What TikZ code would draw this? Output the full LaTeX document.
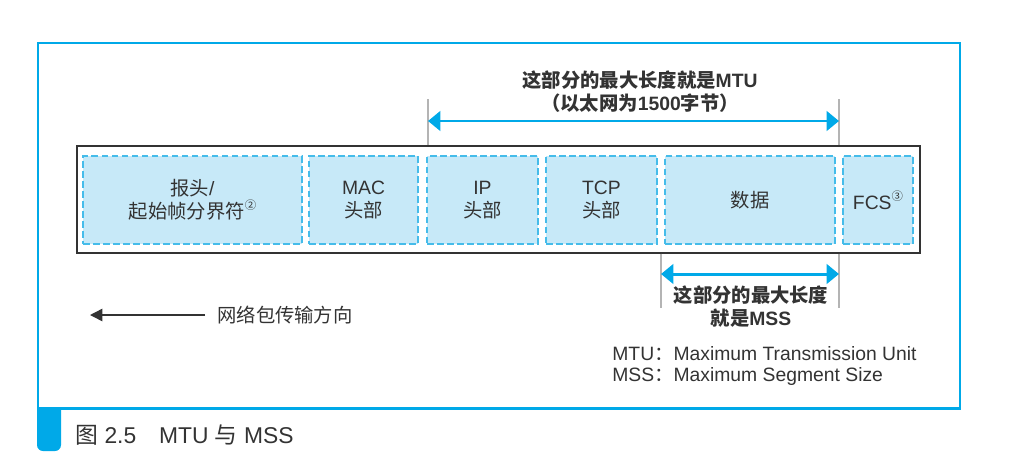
\documentclass[tikz,border=0pt]{standalone}
\usepackage{fontspec}
\setmainfont{Liberation Sans}
\newfontfamily\cjk{Noto Sans CJK SC}
\usetikzlibrary{arrows.meta}
\definecolor{frameblue}{HTML}{00A9E8}
\definecolor{segfill}{HTML}{C7E9F8}
\definecolor{segline}{HTML}{45BCEA}
\definecolor{guidegray}{HTML}{B4B4B4}
\definecolor{inkgray}{HTML}{333333}
\newcommand{\zh}[1]{{\cjk #1}}
\newcommand{\circnum}[1]{\raisebox{.45em}{\fontsize{6.5pt}{6.5pt}\selectfont\cjk #1}}
\tikzstyle{seg} = [rectangle, draw=segline, fill=segfill, dash pattern=on 3.8pt off 1.9pt, line width=0.7pt, minimum height=1.76cm, inner sep=0pt, align=center, text=inkgray, font=\fontsize{11pt}{13pt}\selectfont]
\tikzstyle{guide} = [guidegray, line width=0.8pt]
\tikzstyle{span} = [frameblue, line width=1.7pt, {Triangle[length=7pt,width=11pt]}-{Triangle[length=7pt,width=11pt]}]
\tikzstyle{note} = [text=inkgray, align=center, font=\fontsize{11pt}{13pt}\selectfont\bfseries]

\begin{document}
\begin{tikzpicture}[x=0.02cm, y=-0.02cm]
\useasboundingbox (0,0) rectangle (1019,464);
% outer frame and caption tab
\draw[frameblue, line width=1.7pt] (38,43) rectangle (960,408);
\fill[frameblue] (37,407) -- (61,407) {[rounded corners=0.12cm] -- (61,451) -- (37,451)} -- cycle;
\node[anchor=west, inner sep=0pt, text=inkgray, font=\fontsize{13pt}{15pt}\selectfont] (caption) at (75,435) {\zh{图} 2.5\hspace{1em}MTU \zh{与} MSS};

% the frame with its fields
\node[draw=inkgray, line width=0.8pt, minimum width=16.86cm, minimum height=2.14cm] (frame) at (498.5,199.5) {};
\node[seg, minimum width=4.38cm] (pre) at (192.5,200) {\zh{报头}/\\\zh{起始帧分界符}\circnum{②}};
\node[seg, minimum width=2.18cm] (mac) at (363.5,200) {MAC\\\zh{头部}};
\node[seg, minimum width=2.22cm] (ip) at (482.5,200) {IP\\\zh{头部}};
\node[seg, minimum width=2.22cm] (tcp) at (601.5,200) {TCP\\\zh{头部}};
\node[seg, minimum width=3.40cm] (data) at (750,200) {\zh{数据}};
\node[seg, minimum width=1.40cm] (fcs) at (878,200) {FCS\circnum{③}};

% MTU span
\coordinate (mtuL) at (428,99);
\coordinate (mtuR) at (839,99);
\draw[guide] (mtuL) -- (mtuL |- frame.north);
\draw[guide] (mtuR) -- (mtuR |- frame.north);
\coordinate (mtuA) at (428,121);
\coordinate (mtuB) at (839,121);
\draw[span] (mtuA) -- (mtuB);
\node[note] (mtutext) at (640,91.5) {\zh{这部分的最大长度就是}MTU\\\zh{（以太网为}1500\zh{字节）}};

% MSS span
\coordinate (mssL) at (661,308);
\coordinate (mssR) at (839,308);
\draw[guide] (mssL |- frame.south) -- (mssL);
\draw[guide] (mssR |- frame.south) -- (mssR);
\coordinate (mssA) at (661,274);
\coordinate (mssB) at (839,274);
\draw[span] (mssA) -- (mssB);
\node[note] (msstext) at (751,307) {\zh{这部分的最大长度}\\\zh{就是}MSS};

% direction of travel
\coordinate (dirA) at (205,315);
\coordinate (dirB) at (90,315);
\draw[inkgray, line width=0.8pt, -{Triangle[length=7pt,width=7pt]}] (dirA) -- (dirB);
\node[anchor=west, inner sep=0pt, text=inkgray, font=\fontsize{11pt}{13pt}\selectfont] (dirtext) at (217,315) {\zh{网络包传输方向}};

% legend
\node[anchor=west, inner sep=0pt, align=left, text=inkgray, font=\fontsize{11pt}{12.5pt}\selectfont] (legend) at (612,366) {MTU\zh{：}Maximum Transmission Unit\\MSS\zh{：}Maximum Segment Size};
\end{tikzpicture}
\end{document}
